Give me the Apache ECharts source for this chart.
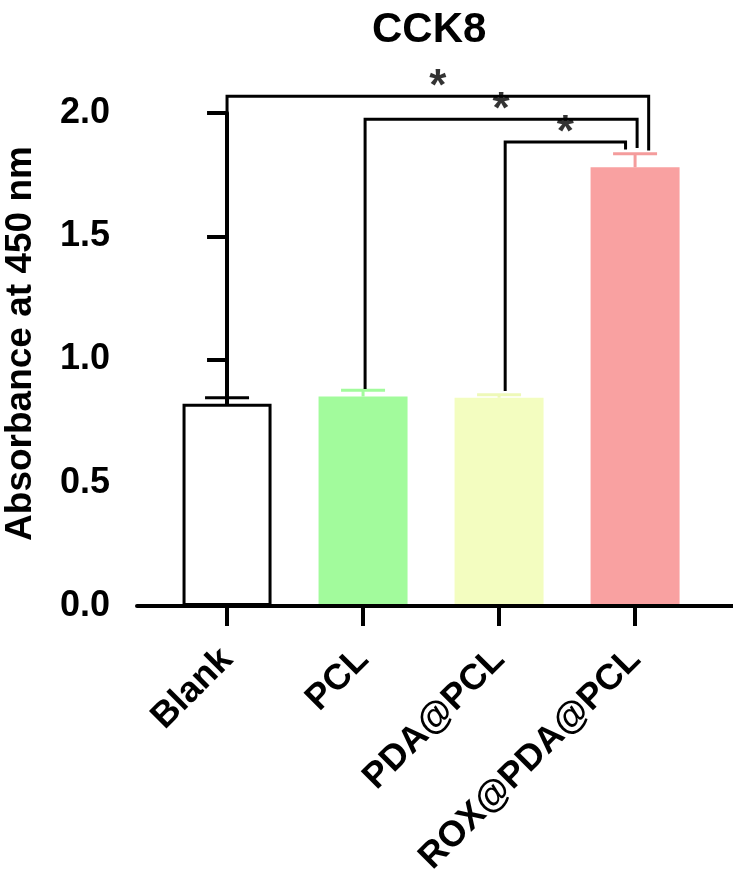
<!DOCTYPE html>
<html>
<head>
<meta charset="utf-8">
<script src="https://cdn.jsdelivr.net/npm/echarts@6/dist/echarts.min.js"></script>
<style>
  html, body { margin: 0; padding: 0; background: #fff; }
  #myChart { width: 733px; height: 884px; }
</style>
</head>
<body>
<div id="myChart"></div>
<script>
// data
const groups = ["Blank", "PCL", "PDA@PCL", "ROX@PDA@PCL"];
const means = [0.82, 0.85, 0.845, 1.78];
const sds = [0.025, 0.025, 0.012, 0.055];
const barColors = ["#ffffff", "#a2fb9c", "#f3fdc0", "#f9a1a1"];
const capColors = ["#000000", "#a2fb9c", "#eef9b8", "#f49c9c"];
const yTicks = [0, 0.5, 1.0, 1.5, 2.0];

// significance brackets: from group, to group, bracket height, left foot, right foot
const compFrom = [0, 1, 2];
const compTo = [3, 3, 3];
const compTop = [2.068, 1.975, 1.882];
const compFootL = [0.868, 0.88, 0.872];
const compFootR = [1.848, 1.858, 1.852];
const compMark = ["*", "*", "*"];

// GraphPad nudges the bracket ends a bit
const footShiftL = [0, 0.015, 0.045];
const footShiftR = [0.1, 0.015, -0.07];

const FONT = "'Liberation Sans', Arial, sans-serif";

let ECharts = echarts.init(document.getElementById("myChart"));

const barData = groups.map((g, i) => ({
   value: [i, means[i]],
   itemStyle: i === 0
      ? { color: "#fff", borderColor: "#000", borderWidth: 3 }
      : { color: barColors[i] }
}));

const errData = groups.map((g, i) => [i, means[i], means[i] + sds[i]]);

const bracketData = compFrom.map((f, i) => [
   f + footShiftL[i], compTo[i] + footShiftR[i], compTop[i], compFootL[i], compFootR[i]
]);

const starData = compFrom.map((f, i) => ({
   value: [(f + footShiftL[i] + compTo[i] + footShiftR[i]) / 2, compTop[i]],
   label: { formatter: compMark[i] }
}));

const option = {
   animation: false,
   title: {
      text: "CCK8",
      left: 367,
      top: 4,
      textStyle: { fontFamily: FONT, fontWeight: "bold", fontSize: 42, color: "#000" }
   },
   grid: { left: 137, right: 0, top: 113, bottom: 278, outerBoundsMode: "none" },
   xAxis: {
      type: "value",
      min: -0.662,
      max: 3.72,
      z: 10,
      splitLine: { show: false },
      axisLine: { lineStyle: { color: "#000", width: 4 } },
      axisTick: {
         customValues: groups.map((g, i) => i),
         length: 20,
         lineStyle: { color: "#000", width: 4 }
      },
      axisLabel: {
         customValues: groups.map((g, i) => i),
         formatter: v => groups[Math.round(v)],
         rotate: 45,
         margin: 48,
         color: "#000",
         fontFamily: FONT,
         fontWeight: "bold",
         fontSize: 36
      }
   },
   yAxis: {
      type: "value",
      min: 0,
      max: 2,
      interval: 0.5,
      name: "Absorbance at 450 nm",
      nameLocation: "middle",
      nameGap: 98,
      nameTextStyle: {
         fontFamily: FONT, fontWeight: "bold", fontSize: 37, color: "#000",
         padding: [0, 0, 0, 32]
      },
      splitLine: { show: false },
      axisLine: { show: true, lineStyle: { color: "#000", width: 4 } },
      axisTick: { show: true, length: 20, lineStyle: { color: "#000", width: 4 } },
      axisLabel: {
         customValues: yTicks,
         formatter: v => v.toFixed(1),
         margin: 27,
         color: "#000",
         fontFamily: FONT,
         fontWeight: "bold",
         fontSize: 36
      }
   },
   series: [
      {
         type: "bar",
         data: barData,
         barWidth: 89
      },
      {
         type: "custom",
         data: errData,
         z: 5,
         renderItem: (params, api) => {
            const i = params.dataIndex;
            const base = api.coord([api.value(0), api.value(1)]);
            const top = api.coord([api.value(0), api.value(2)]);
            const style = { stroke: capColors[i], lineWidth: 3 };
            return {
               type: "group",
               children: [
                  { type: "line", shape: { x1: base[0], y1: base[1], x2: top[0], y2: top[1] }, style },
                  { type: "line", shape: { x1: top[0] - 22, y1: top[1], x2: top[0] + 22, y2: top[1] }, style }
               ]
            };
         }
      },
      {
         type: "custom",
         data: bracketData,
         clip: false,
         z: 6,
         renderItem: (params, api) => {
            const pts = [
               api.coord([api.value(0), api.value(3)]),
               api.coord([api.value(0), api.value(2)]),
               api.coord([api.value(1), api.value(2)]),
               api.coord([api.value(1), api.value(4)])
            ];
            return {
               type: "polyline",
               shape: { points: pts },
               style: { stroke: "#000", lineWidth: 3, fill: null }
            };
         }
      },
      {
         type: "scatter",
         data: starData,
         clip: false,
         symbolSize: 1,
         itemStyle: { color: "rgba(0,0,0,0)" },
         z: 7,
         label: {
            show: true,
            position: "top",
            distance: -14,
            color: "#000",
            fontFamily: FONT,
            fontWeight: "bold",
            fontSize: 44
         }
      }
   ]
};

ECharts.setOption(option);
</script>
</body>
</html>
